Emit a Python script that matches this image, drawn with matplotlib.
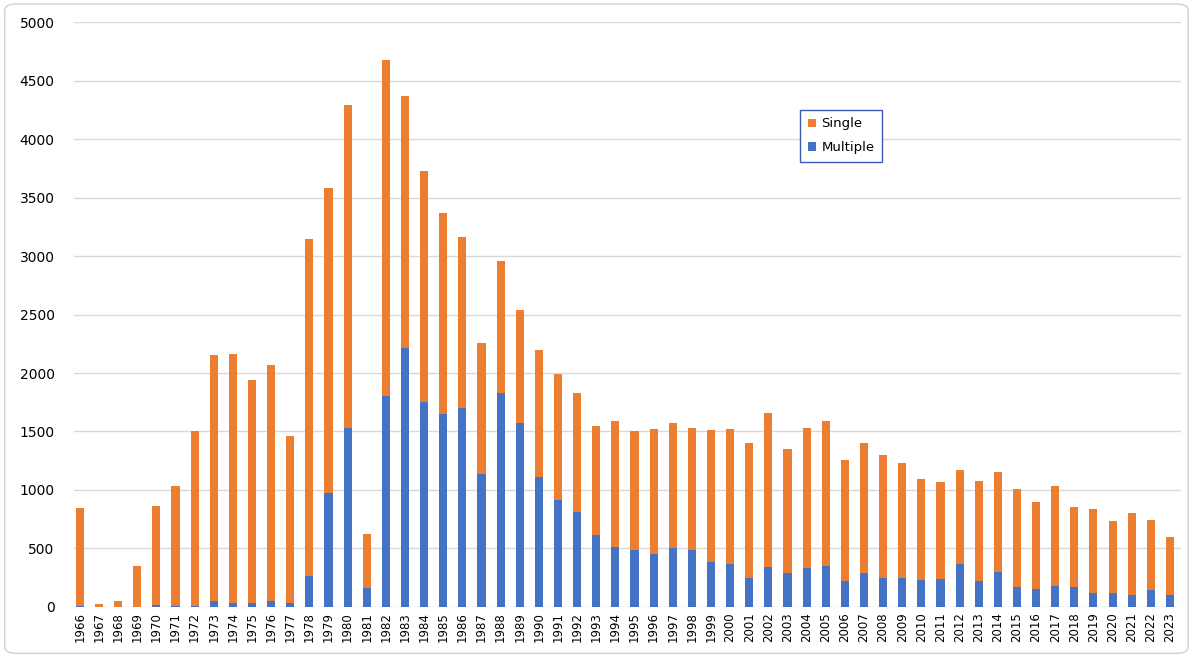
import matplotlib
matplotlib.use("Agg")
import matplotlib.pyplot as plt
from matplotlib.patches import FancyBboxPatch
import numpy as np

years = list(range(1966, 2024))
totals = [845, 20, 50, 345, 865, 1036, 1505, 2155, 2165, 1943, 2070, 1460,
          3150, 3580, 4290, 620, 4680, 4370, 3730, 3370, 3160, 2260, 2960, 2540,
          2200, 1990, 1830, 1550, 1590, 1500, 1520, 1570, 1530, 1510, 1520, 1400,
          1660, 1350, 1530, 1590, 1260, 1400, 1300, 1230, 1090, 1070, 1170, 1080,
          1150, 1010, 900, 1030, 850, 840, 730, 800, 740, 600]
multiple = [5, 0, 0, 0, 15, 5, 5, 50, 30, 35, 50, 30,
            260, 970, 1530, 160, 1800, 2210, 1750, 1650, 1700, 1140, 1830, 1570,
            1110, 910, 810, 610, 510, 490, 450, 500, 490, 380, 370, 250,
            340, 290, 330, 350, 220, 290, 250, 250, 230, 240, 370, 220,
            300, 170, 150, 180, 170, 120, 120, 100, 140, 100]
single = [t - m for t, m in zip(totals, multiple)]

ORANGE = "#ED7D31"
BLUE = "#4472C4"

fig = plt.figure(figsize=(11.93, 6.56), dpi=100)
ax = fig.add_axes([0.062, 0.075, 0.928, 0.891])

x = np.arange(len(years))
w = 0.42
ax.bar(x, multiple, width=w, color=BLUE, label="Multiple", zorder=3)
ax.bar(x, single, width=w, bottom=multiple, color=ORANGE, label="Single", zorder=3)

ax.set_ylim(0, 5000)
ax.set_xlim(-0.31, len(years) - 0.42)
ax.set_yticks(range(0, 5001, 500))
ax.set_xticks(x)
ax.set_xticklabels([str(y) for y in years], rotation=90, fontsize=8.5)
ax.tick_params(axis='y', labelsize=10, length=0, pad=14)
ax.tick_params(axis='x', length=0, pad=4)
ax.grid(axis='y', color="#D9D9D9", linewidth=1, zorder=0)
for s in ax.spines.values():
    s.set_visible(False)

handles, labels = ax.get_legend_handles_labels()
leg = ax.legend(handles[::-1], labels[::-1], loc='upper left',
                bbox_to_anchor=(0.650, 0.862), fontsize=9.5,
                handlelength=0.6, handleheight=0.6, handletextpad=0.4,
                borderpad=0.6, labelspacing=0.8, fancybox=False, framealpha=1)
leg.get_frame().set_edgecolor("#3B5BB5")
leg.get_frame().set_linewidth(1.0)

frame = FancyBboxPatch((0.004, 0.004), 0.992, 0.99, boxstyle="round,pad=0,rounding_size=0.01",
                       transform=fig.transFigure, fill=False, edgecolor="#D0D0D0",
                       linewidth=1)
fig.patches.append(frame)

fig.savefig("out.png", dpi=100)
